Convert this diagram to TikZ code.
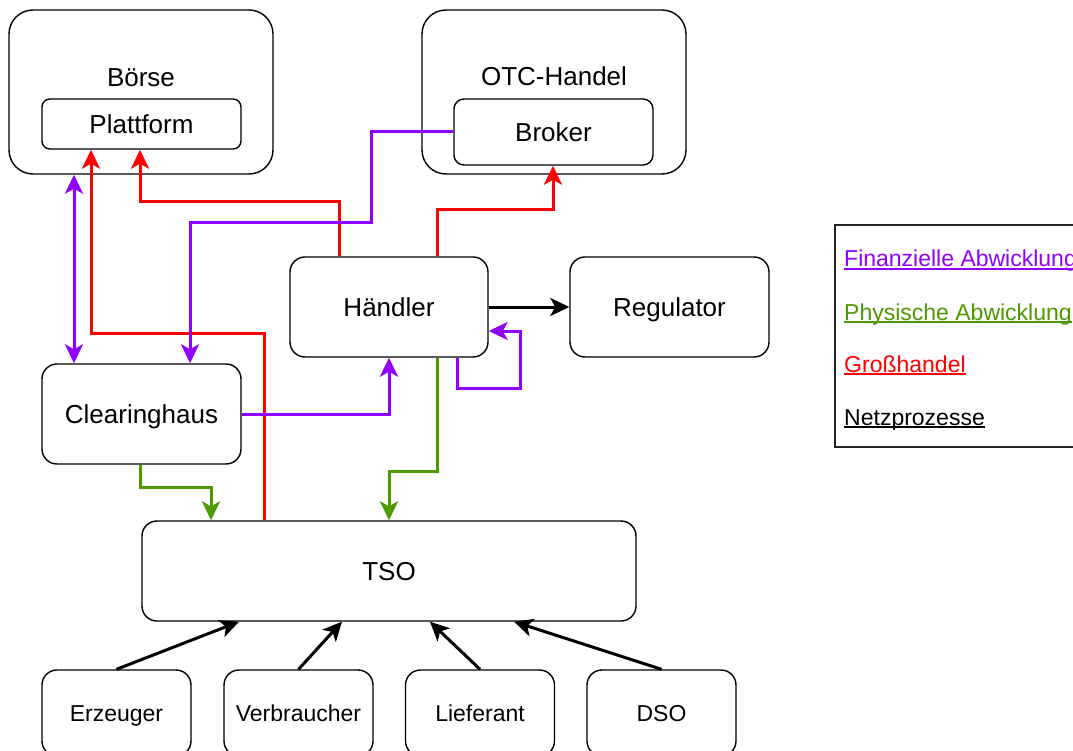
\documentclass[tikz,border=0pt]{standalone}
\usepackage{fontspec}
\setmainfont{Liberation Sans}
\usetikzlibrary{arrows.meta}
\definecolor{finviolet}{HTML}{9000FF}
\definecolor{physgreen}{HTML}{4D9900}
\definecolor{tradered}{HTML}{FF0000}

\begin{document}
\begin{tikzpicture}[x=1pt,y=-1pt,
  >={Stealth[length=19pt,width=18pt,inset=5pt]},
  box/.style={draw=black, line width=1.4pt, rounded corners=#1, inner sep=0pt, fill=white},
  box/.default=15pt,
  big/.style={font=\fontsize{26}{30}\selectfont, text height=18.6pt, text depth=0pt, inner sep=0pt},
  small/.style={font=\fontsize{23}{27}\selectfont, text height=16.5pt, text depth=0pt, inner sep=0pt},
  link/.style={line width=3pt, ->},
  fin/.style={link, draw=finviolet},
  phys/.style={link, draw=physgreen},
  trade/.style={link, draw=tradered},
  grid/.style={link, draw=black},
  legtext/.style={small, anchor=base west},
  uline/.style={line width=1.5pt}
]
\useasboundingbox (0,0) rectangle (1073,751);
\fill[white] (0,0) rectangle (1073,751);
\clip (0,0) rectangle (1073,751);

% market places
\node[box=24pt, minimum width=264pt, minimum height=164pt] (boerse) at (141,92) {};
\node[big] (boerseT) at (141,77) {Börse};
\node[box=8pt, big, minimum width=199pt, minimum height=50pt] (plattform) at (141.5,124) {Plattform};

\node[box=24pt, minimum width=264pt, minimum height=164pt] (otc) at (554,92) {};
\node[big] (otcT) at (554,76) {OTC-Handel};
\node[box=10pt, big, minimum width=199pt, minimum height=66pt] (broker) at (553.5,132) {Broker};

% actors
\node[box, big, minimum width=198pt, minimum height=100pt] (haendler) at (389,307) {Händler};
\node[box, big, minimum width=199pt, minimum height=100pt] (regulator) at (669.5,307) {Regulator};
\node[box, big, minimum width=199pt, minimum height=100pt] (clearing) at (141.5,414) {Clearinghaus};
\node[box, big, minimum width=494pt, minimum height=100pt] (tso) at (389,571) {TSO};

\node[box, small, minimum width=149pt, minimum height=86pt] (erzeuger) at (116.5,713) {Erzeuger};
\node[box, small, minimum width=149pt, minimum height=86pt] (verbraucher) at (298.5,713) {Verbraucher};
\node[box, small, minimum width=149pt, minimum height=86pt] (lieferant) at (480,713) {Lieferant};
\node[box, small, minimum width=149pt, minimum height=86pt] (dso) at (661.5,713) {DSO};

% wholesale trading
\draw[trade] ([xshift=-125pt]tso.north) -- (264,333) -- (91,333) -- ([xshift=-50.5pt]plattform.south);
\draw[trade] ([xshift=-50pt]haendler.north) -- (339,202) -- (140,202) -- ([xshift=-1.5pt]plattform.south);
\draw[trade] ([xshift=48pt]haendler.north) -- (437,210) -- (553,210) -- ([xshift=-0.5pt]broker.south);

% financial settlement
\draw[fin, <->] ([xshift=-67pt]boerse.south) -- ([xshift=-67.5pt]clearing.north);
\draw[fin] (broker.west) -- (371,132) -- (371,223) -- (190,223) -- ([xshift=48.5pt]clearing.north);
\draw[fin] (clearing.east) -- (389,414) -- (haendler.south);
\draw[fin] ([xshift=68pt]haendler.south) -- (457,388) -- (520,388) -- (520,331) -- ([yshift=-24pt]haendler.east);

% physical settlement
\draw[phys] ([xshift=-1.5pt]clearing.south) -- (140,487) -- (211,487) -- ([xshift=-178pt]tso.north);
\draw[phys] ([xshift=48pt]haendler.south) -- (437,471) -- (389,471) -- (tso.north);

% grid processes
\draw[grid] (haendler.east) -- (regulator.west);
\draw[grid] (erzeuger.north) -- ([xshift=-150pt]tso.south);
\draw[grid] (verbraucher.north) -- ([xshift=-47pt]tso.south);
\draw[grid] (lieferant.north) -- ([xshift=41pt]tso.south);
\draw[grid] (dso.north) -- ([xshift=125pt]tso.south);

% legend
\node[draw=black!85, line width=1.4pt, minimum width=280pt, minimum height=222pt, inner sep=0pt] (legend) at (975,336) {};
\node[legtext, text=finviolet] (legFin) at (844,267) {Finanzielle Abwicklung};
\node[legtext, text=physgreen] (legPhys) at (844,320) {Physische Abwicklung};
\node[legtext, text=tradered] (legTrade) at (844,372) {Großhandel};
\node[legtext, text=black] (legGrid) at (844,425) {Netzprozesse};
\draw[uline, finviolet] ([yshift=-2pt]legFin.base west) -- ([yshift=-2pt]legFin.base east);
\draw[uline, physgreen] ([yshift=-2pt]legPhys.base west) -- ([yshift=-2pt]legPhys.base east);
\draw[uline, tradered] ([yshift=-2pt]legTrade.base west) -- ([yshift=-2pt]legTrade.base east);
\draw[uline, black] ([yshift=-2pt]legGrid.base west) -- ([yshift=-2pt]legGrid.base east);
\end{tikzpicture}
\end{document}
